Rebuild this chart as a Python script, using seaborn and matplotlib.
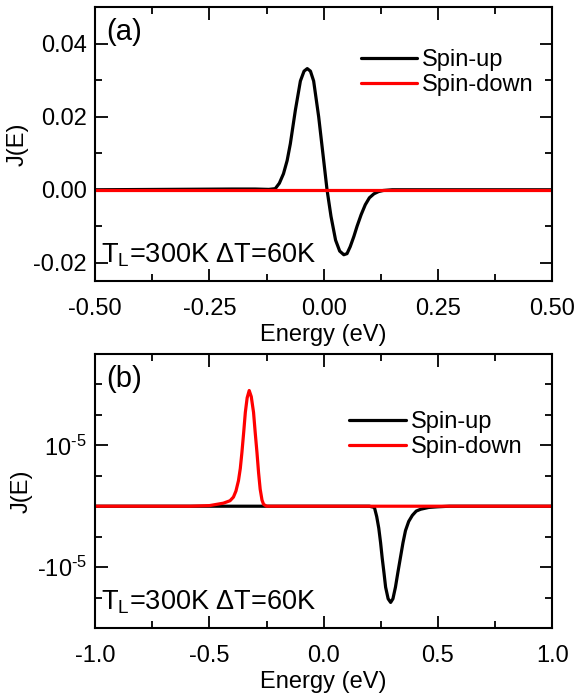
import matplotlib
matplotlib.use("Agg")
import matplotlib.pyplot as plt
import seaborn as sns
import pandas as pd
from matplotlib.ticker import MultipleLocator, FixedLocator, FixedFormatter

# ---------------- data ----------------
# Panel (a)
a_up_E = [-0.50, -0.20, -0.15, -0.12, -0.106, -0.097, -0.088, -0.080, -0.073, -0.062,
          -0.051, -0.043, -0.036, -0.029, -0.022, -0.011, 0.000, 0.0073, 0.016,
          0.026, 0.035, 0.044, 0.051, 0.058, 0.066, 0.073, 0.082, 0.091, 0.10,
          0.11, 0.12, 0.13, 0.15, 0.50]
a_up_J = [0.0, 0.0002, 0.0002, 0.0001, 0.0003, 0.0018, 0.0044, 0.0080, 0.0126, 0.0218,
          0.0298, 0.0325, 0.0332, 0.0325, 0.0298, 0.0200, 0.0080, 0.0, -0.0073,
          -0.0138, -0.0168, -0.0178, -0.0175, -0.0156, -0.0128, -0.0100, -0.0068, -0.0041, -0.0022,
          -0.0011, -0.0005, -0.0002, 0.0, 0.0]
a_down_E = [-0.50, 0.50]
a_down_J = [0.0, 0.0]

# Panel (b)
b_up_E = [-1.00, 0.20, 0.222, 0.232, 0.241, 0.249, 0.256, 0.264, 0.271, 0.282,
          0.293, 0.303, 0.314, 0.325, 0.336, 0.347, 0.358, 0.372, 0.388, 0.405,
          0.424, 0.46, 0.497, 0.55, 1.00]
b_up_J = [0.0, 0.0, -0.02e-5, -0.17e-5, -0.36e-5, -0.60e-5, -0.85e-5, -1.10e-5, -1.33e-5, -1.52e-5,
          -1.58e-5, -1.52e-5, -1.33e-5, -1.08e-5, -0.84e-5, -0.60e-5, -0.40e-5, -0.25e-5, -0.15e-5, -0.08e-5,
          -0.05e-5, -0.02e-5, -0.01e-5, 0.0, 0.0]
b_down_E = [-1.00, -0.585, -0.50, -0.439, -0.410, -0.395, -0.384, -0.373, -0.365, -0.358,
            -0.350, -0.343, -0.335, -0.326, -0.317, -0.307, -0.300, -0.292, -0.285, -0.278,
            -0.270, -0.263, -0.25, 1.00]
b_down_J = [0.0, 0.0, 0.01e-5, 0.05e-5, 0.09e-5, 0.15e-5, 0.25e-5, 0.42e-5, 0.62e-5, 0.88e-5,
            1.22e-5, 1.54e-5, 1.78e-5, 1.90e-5, 1.80e-5, 1.54e-5, 1.22e-5, 0.88e-5, 0.55e-5, 0.28e-5,
            0.10e-5, 0.03e-5, 0.0, 0.0]

series = ["Spin-up", "Spin-down"]
colors = ["black", "#ff0000"]
a_xticks = [-0.50, -0.25, 0.00, 0.25, 0.50]
a_yticks = [-0.02, 0.00, 0.02, 0.04]
b_xticks = [-1.0, -0.5, 0.0, 0.5, 1.0]
b_yticks = [-1e-5, 1e-5]
b_yticklabels = ["-10$^{\\mathregular{\u2010}5}$", "10$^{\\mathregular{\u2010}5}$"]
annot = r"T$_{\mathregular{L}}$=300K $\Delta$T=60K"

# ---------------- style ----------------
sns.set_style("ticks")
plt.rcParams["font.family"] = ["Liberation Sans", "DejaVu Sans"]
plt.rcParams["mathtext.fontset"] = "custom"
plt.rcParams["mathtext.rm"] = "Liberation Sans"
plt.rcParams["mathtext.it"] = "Liberation Sans"
plt.rcParams["mathtext.default"] = "regular"
for k in ["text.color", "axes.labelcolor", "xtick.color", "ytick.color",
          "xtick.labelcolor", "ytick.labelcolor", "axes.edgecolor"]:
    plt.rcParams[k] = "black"

fig = plt.figure(figsize=(5.77, 6.93), dpi=100)
ax_a = fig.add_axes([0.165, 0.5945, 0.792, 0.395])
ax_b = fig.add_axes([0.165, 0.0938, 0.792, 0.3954])

palette = dict(zip(series, colors))

def make_df(up_E, up_J, down_E, down_J):
    return pd.concat([
        pd.DataFrame({"E": up_E, "J": up_J, "s": series[0]}),
        pd.DataFrame({"E": down_E, "J": down_J, "s": series[1]}),
    ], ignore_index=True)

df_a = make_df(a_up_E, a_up_J, a_down_E, a_down_J)
df_b = make_df(b_up_E, b_up_J, b_down_E, b_down_J)

for ax, df in [(ax_a, df_a), (ax_b, df_b)]:
    sns.lineplot(data=df, x="E", y="J", hue="s", hue_order=series, palette=palette,
                 sort=False, estimator=None, linewidth=2.3, ax=ax)

def style(ax, xlim, ylim, xticks, xminor, yminor, legend_anchor):
    ax.set_xlim(*xlim)
    ax.set_ylim(*ylim)
    ax.xaxis.set_major_locator(FixedLocator(xticks))
    ax.xaxis.set_minor_locator(MultipleLocator(xminor))
    ax.yaxis.set_minor_locator(MultipleLocator(yminor))
    ax.tick_params(which="both", direction="in", top=True, right=True,
                   labelsize=17, width=1.3, color="black", labelcolor="black")
    ax.tick_params(axis="y", pad=6)
    ax.tick_params(axis="x", pad=12)
    ax.tick_params(which="major", length=9)
    ax.tick_params(which="minor", length=5)
    for sp in ax.spines.values():
        sp.set_visible(True)
        sp.set_linewidth(1.5)
        sp.set_color("black")
    ax.set_xlabel("Energy (eV)", fontsize=17, labelpad=3, color="black")
    ax.set_ylabel("J(E)", fontsize=17, labelpad=3, color="black")
    ax.legend(frameon=False, fontsize=17, handlelength=2.4, handletextpad=0.2,
              labelspacing=0.12, borderpad=0, loc="upper right",
              bbox_to_anchor=legend_anchor)

style(ax_a, (-0.5, 0.5), (-0.025, 0.05), a_xticks, 0.125, 0.01, (0.985, 0.89))
ax_a.yaxis.set_major_locator(FixedLocator(a_yticks))
ax_a.set_xticklabels([f"{v:.2f}" for v in a_xticks])
ax_a.set_yticklabels([f"{v:.2f}" for v in a_yticks])

style(ax_b, (-1.0, 1.0), (-2e-5, 2.5e-5), b_xticks, 0.25, 0.5e-5, (0.96, 0.835))
ax_b.yaxis.set_major_locator(FixedLocator(b_yticks))
ax_b.yaxis.set_major_formatter(FixedFormatter(b_yticklabels))
ax_b.set_xticklabels([f"{v:.1f}" for v in b_xticks])

ax_a.text(0.024, 0.96, "(a)", transform=ax_a.transAxes, fontsize=21, va="top", ha="left")
ax_b.text(0.024, 0.96, "(b)", transform=ax_b.transAxes, fontsize=21, va="top", ha="left")
ax_a.text(0.012, 0.045, annot, transform=ax_a.transAxes, fontsize=19.5, va="bottom", ha="left")
ax_b.text(0.012, 0.045, annot, transform=ax_b.transAxes, fontsize=19.5, va="bottom", ha="left")

fig.savefig("out.png", dpi=100)
